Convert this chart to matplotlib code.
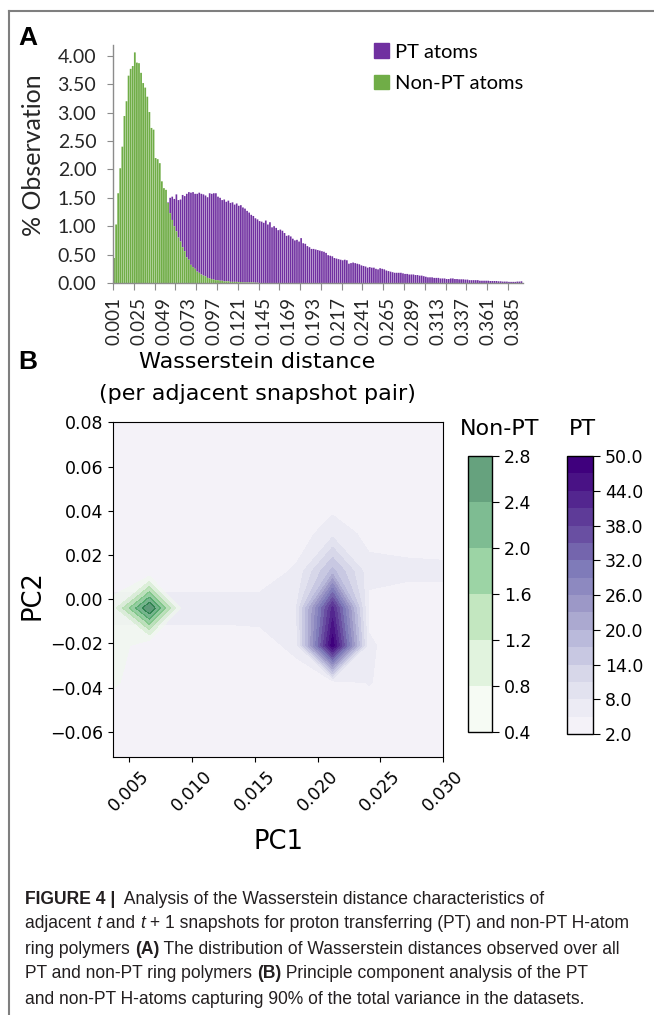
import numpy as np
import matplotlib
matplotlib.use("Agg")
import matplotlib.pyplot as plt
from matplotlib.lines import Line2D
from matplotlib.patches import Patch
from matplotlib.ticker import FormatStrFormatter

# ---------------- panel A: % observation per Wasserstein-distance bin
bin_first, bin_step = 0.001, 0.002
pt_pct = [
    0.12, 0.14, 0.16, 0.18, 0.22, 0.28, 0.35, 0.40, 0.46, 0.52,
    0.57, 0.62, 0.70, 0.78, 0.85, 0.89, 0.93, 0.97, 1.01, 1.06,
    1.11, 1.17, 1.23, 1.29, 1.35, 1.38, 1.42, 1.50, 1.52, 1.48,
    1.56, 1.46, 1.47, 1.55, 1.53, 1.57, 1.60, 1.59, 1.60, 1.57,
    1.57, 1.59, 1.57, 1.56, 1.54, 1.51, 1.58, 1.57, 1.58, 1.58,
    1.52, 1.50, 1.46, 1.47, 1.43, 1.45, 1.41, 1.42, 1.38, 1.40,
    1.36, 1.37, 1.33, 1.31, 1.27, 1.24, 1.20, 1.18, 1.14, 1.12,
    1.09, 1.08, 1.06, 1.10, 1.03, 1.07, 0.98, 1.00, 0.97, 0.93,
    0.94, 0.92, 0.88, 0.83, 0.84, 0.82, 0.78, 0.75, 0.76, 0.73,
    0.79, 0.70, 0.69, 0.65, 0.63, 0.60, 0.60, 0.59, 0.58, 0.57,
    0.56, 0.55, 0.53, 0.49, 0.48, 0.47, 0.44, 0.43, 0.42, 0.41,
    0.40, 0.41, 0.40, 0.34, 0.35, 0.36, 0.35, 0.34, 0.33, 0.31,
    0.30, 0.29, 0.27, 0.28, 0.27, 0.27, 0.25, 0.24, 0.26, 0.25,
    0.24, 0.22, 0.21, 0.20, 0.19, 0.18, 0.18, 0.18, 0.18, 0.17,
    0.16, 0.16, 0.15, 0.15, 0.15, 0.14, 0.14, 0.13, 0.13, 0.12,
    0.11, 0.10, 0.10, 0.10, 0.09, 0.09, 0.09, 0.08, 0.08, 0.08,
    0.07, 0.07, 0.08, 0.08, 0.07, 0.07, 0.065, 0.065, 0.065, 0.06,
    0.06, 0.05, 0.05, 0.05, 0.05, 0.05, 0.04, 0.04, 0.04, 0.04,
    0.04, 0.035, 0.035, 0.035, 0.035, 0.03, 0.03, 0.025, 0.025, 0.025,
    0.02, 0.02, 0.02, 0.02, 0.025, 0.025, 0.03,
]
nonpt_pct = [
    0.44, 1.03, 1.58, 2.02, 2.40, 2.94, 3.20, 3.65, 3.77, 3.82,
    4.06, 3.88, 3.87, 3.70, 3.52, 3.44, 3.28, 3.01, 2.73, 2.70,
    2.20, 2.18, 2.11, 1.79, 1.67, 1.64, 1.41, 1.23, 1.11, 1.00,
    0.91, 0.80, 0.73, 0.63, 0.56, 0.45, 0.41, 0.32, 0.28, 0.25,
    0.20, 0.18, 0.15, 0.13, 0.12, 0.09, 0.08, 0.07, 0.06, 0.05,
    0.05, 0.04, 0.04, 0.03, 0.03, 0.03, 0.02, 0.02, 0.02, 0.02,
    0.015, 0.015, 0.01, 0.01, 0.01, 0.01, 0.01, 0.01, 0.005, 0.005,
]
nonpt_pct = nonpt_pct + [0.0] * (len(pt_pct) - len(nonpt_pct))
bins = [round(bin_first + bin_step * i, 3) for i in range(len(pt_pct))]
label_every = 12   # a category label every 12 bins
tick_every = 10    # a tick mark every 10 bins

# ---------------- panel B: PCA density grids
pc1_grid = [0.0037, 0.0066, 0.0095, 0.0125, 0.0154, 0.0183, 0.0212, 0.0241, 0.0271, 0.0300]
pc2_grid = [-0.0714, -0.0546, -0.0377, -0.0209, -0.0040, 0.0128, 0.0297, 0.0465, 0.0634, 0.0802]
# rows go from bottom (PC2 min) to top
pt_density = [
    [3, 3, 3, 3, 3, 3, 3, 3, 3, 3],
    [3, 3, 3, 3, 3, 3, 3, 3, 3, 3],
    [3, 3, 3, 3, 3, 3, 3, 5.2, 3, 3],
    [3, 3, 3, 3, 3.5, 6, 49, 5.5, 3, 3],
    [6.5, 6.5, 6.5, 6.5, 6.5, 8, 42, 4, 3, 3],
    [3, 3, 3, 3, 3, 5.5, 18, 6, 5.8, 5.8],
    [3, 3, 3, 3, 3, 3, 7, 4, 3.5, 3],
    [3, 3, 3, 3, 3, 3, 3, 3, 3, 3],
    [3, 3, 3, 3, 3, 3, 3, 3, 3, 3],
    [3, 3, 3, 3, 3, 3, 3, 3, 3, 3],
]
nonpt_density = [
    [0, 0, 0, 0, 0, 0, 0, 0, 0, 0],
    [0, 0, 0, 0, 0, 0, 0, 0, 0, 0],
    [0.5, 0, 0, 0, 0, 0, 0, 0, 0, 0],
    [0.75, 0, 0, 0, 0, 0, 0, 0, 0, 0],
    [0.6, 2.85, 0, 0, 0, 0, 0, 0, 0, 0],
    [0, 0, 0, 0, 0, 0, 0, 0, 0, 0],
    [0, 0, 0, 0, 0, 0, 0, 0, 0, 0],
    [0, 0, 0, 0, 0, 0, 0, 0, 0, 0],
    [0, 0, 0, 0, 0, 0, 0, 0, 0, 0],
    [0, 0, 0, 0, 0, 0, 0, 0, 0, 0],
]
nonpt_levels = [0.4, 0.8, 1.2, 1.6, 2.0, 2.4, 2.8]
pt_levels = [2, 5, 8, 11, 14, 17, 20, 23, 26, 29, 32, 35, 38, 41, 44, 47, 50]
pt_ticks = [2, 8, 14, 20, 26, 32, 38, 44, 50]
pc1_ticks = [0.005, 0.010, 0.015, 0.020, 0.025, 0.030]
pc2_ticks = [-0.06, -0.04, -0.02, 0.00, 0.02, 0.04, 0.06, 0.08]

excel_font = "Lato"
arial = "Liberation Sans"
cap_font = "Liberation Sans"

W, H = 654, 1015
fig = plt.figure(figsize=(W / 100, H / 100), dpi=100)


def box(left, top, right, bottom):
    return [left / W, 1 - bottom / H, (right - left) / W, (bottom - top) / H]


def fx(px):
    return px / W


def fy(py):
    return 1 - py / H


# frame lines of the figure page
fig.add_artist(Line2D([fx(9), 1], [fy(11), fy(11)], color="#7f7f7f", lw=1.5))
fig.add_artist(Line2D([fx(9), fx(9)], [fy(11), 0], color="#7f7f7f", lw=1.5))

# ---------------- panel A
axA = fig.add_axes(box(113, 45, 522.5, 283))
x = np.arange(len(bins))
pt_arr = np.array(pt_pct)
np_arr = np.array(nonpt_pct)
# the green series is drawn in front, so only the part of each PT bar above it shows
pt_base = np.minimum(np_arr, pt_arr)
axA.bar(x, pt_arr - pt_base, bottom=pt_base, width=0.8, color="#7030a0",
        linewidth=0, snap=False)
axA.bar(x, np_arr, width=0.85, color="#70ad47", linewidth=0, snap=False)
axA.set_xlim(-0.5, len(bins) - 0.5)
axA.set_ylim(0, 4.19)
for s in ("top", "right"):
    axA.spines[s].set_visible(False)
for s in ("left", "bottom"):
    axA.spines[s].set_color("#8c8c8c")
    axA.spines[s].set_linewidth(1.0)
axA.set_yticks(np.arange(0, 4.01, 0.5))
axA.yaxis.set_major_formatter(FormatStrFormatter("%.2f"))
axA.set_xticks(np.arange(-0.5, len(bins) - 5, tick_every))
axA.set_xticklabels([])
lab_idx = x[::label_every]
axA.set_xticks(lab_idx, labels=[f"{bins[i]:.3f}" for i in lab_idx], minor=True)
axA.tick_params(axis="x", which="minor", length=0, pad=10, rotation=90)
axA.tick_params(axis="x", which="major", length=5, color="#8c8c8c")
axA.tick_params(axis="y", length=4, color="#8c8c8c", pad=8)
for lab in axA.get_xticklabels(minor=True):
    lab.set_fontfamily(excel_font)
    lab.set_fontsize(13.5)
    lab.set_color("#262626")
for lab in axA.get_yticklabels():
    lab.set_fontfamily(excel_font)
    lab.set_fontsize(14)
    lab.set_color("#262626")

fig.text(fx(34), fy(155), "% Observation", rotation=90, ha="center", va="center",
         family=excel_font, fontsize=18, color="#262626")
axA.legend(handles=[Patch(color="#7030a0"), Patch(color="#70ad47")],
           labels=["PT atoms", "Non-PT atoms"], loc="upper left",
           bbox_to_anchor=(fx(356), fy(25)), bbox_transform=fig.transFigure,
           frameon=False, handlelength=0.75, handleheight=0.75, handletextpad=0.3,
           labelspacing=0.7, prop={"family": excel_font, "size": 14.5})

fig.text(fx(18), fy(38), "A", ha="left", va="center", family=arial,
         fontweight="bold", fontsize=19)
fig.text(fx(18), fy(362), "B", ha="left", va="center", family=arial,
         fontweight="bold", fontsize=19)
fig.text(fx(257), fy(362), "Wasserstein distance", ha="center", va="center", fontsize=16)
fig.text(fx(257), fy(394), "(per adjacent snapshot pair)", ha="center", va="center", fontsize=16)

# ---------------- panel B
axB = fig.add_axes(box(113, 422, 443, 757))
GX, GY = np.meshgrid(pc1_grid, pc2_grid)
cs_pt = axB.contourf(GX, GY, np.array(pt_density), levels=pt_levels,
                     colors=plt.cm.Purples(np.linspace(0.08, 1.0, len(pt_levels) - 1)))
cs_np = axB.contourf(GX, GY, np.array(nonpt_density), levels=nonpt_levels,
                     colors=plt.cm.Greens(np.linspace(0.05, 0.9, len(nonpt_levels) - 1)),
                     alpha=0.6)
axB.set_xlim(pc1_grid[0], pc1_grid[-1])
axB.set_ylim(pc2_grid[0], pc2_grid[-1])
axB.set_xticks(pc1_ticks, labels=[f"{v:.3f}" for v in pc1_ticks])
axB.set_yticks(pc2_ticks, labels=[f"{v:.2f}".replace("-", "\u2212") for v in pc2_ticks])
axB.tick_params(axis="x", labelsize=12.5, rotation=45)
axB.tick_params(axis="y", labelsize=12.5)
fig.text(fx(279), fy(842), "PC1", ha="center", va="center", fontsize=18.5)
fig.text(fx(33), fy(595), "PC2", ha="center", va="center", rotation=90, fontsize=18.5)

cax_np = fig.add_axes(box(468, 456, 492, 732))
cb_np = fig.colorbar(cs_np, cax=cax_np, ticks=nonpt_levels, format="%.1f")
cax_pt = fig.add_axes(box(567, 456, 593, 734))
cb_pt = fig.colorbar(cs_pt, cax=cax_pt, ticks=pt_ticks, format="%.1f")
for cb in (cb_np, cb_pt):
    cb.ax.tick_params(labelsize=12.5, length=5)
    cb.outline.set_linewidth(1.0)
fig.text(fx(500), fy(429), "Non-PT", ha="center", va="center", fontsize=16)
fig.text(fx(582), fy(429), "PT", ha="center", va="center", fontsize=16)

# ---------------- caption
caption = [
    (899, [("FIGURE 4 |", "bold", "normal"),
           ("  Analysis of the Wasserstein distance characteristics of", "normal", "normal")]),
    (924, [("adjacent ", "normal", "normal"), ("t", "normal", "italic"),
           (" and ", "normal", "normal"), ("t", "normal", "italic"),
           (" + 1 snapshots for proton transferring (PT) and non-PT H-atom", "normal", "normal")]),
    (949, [("ring polymers ", "normal", "normal"), ("(A)", "bold", "normal"),
           (" The distribution of Wasserstein distances observed over all", "normal", "normal")]),
    (974, [("PT and non-PT ring polymers ", "normal", "normal"), ("(B)", "bold", "normal"),
           (" Principle component analysis of the PT", "normal", "normal")]),
    (999, [("and non-PT H-atoms capturing 90% of the total variance in the datasets.",
            "normal", "normal")]),
]
renderer = fig.canvas.get_renderer()


def place_line(y, pieces, size):
    xpos = 25
    for txt, weight, style in pieces:
        t = fig.text(fx(xpos), fy(y), txt, ha="left", va="center", family=cap_font,
                     fontweight=weight, fontstyle=style, fontsize=size, color="#231f20")
        xpos += t.get_window_extent(renderer=renderer).width
    return xpos - 25


# size chosen so the widest line spans ~600 px like the reference
probe = fig.text(0, 0, "ring polymers (A) The distribution of Wasserstein distances observed over all",
                 family=cap_font, fontsize=10)
probe_w = probe.get_window_extent(renderer=renderer).width
probe.remove()
cap_size = min(10 * 598 / probe_w, 13.5)
for y, pieces in caption:
    place_line(y, pieces, cap_size)

fig.savefig("out.png", dpi=100)
